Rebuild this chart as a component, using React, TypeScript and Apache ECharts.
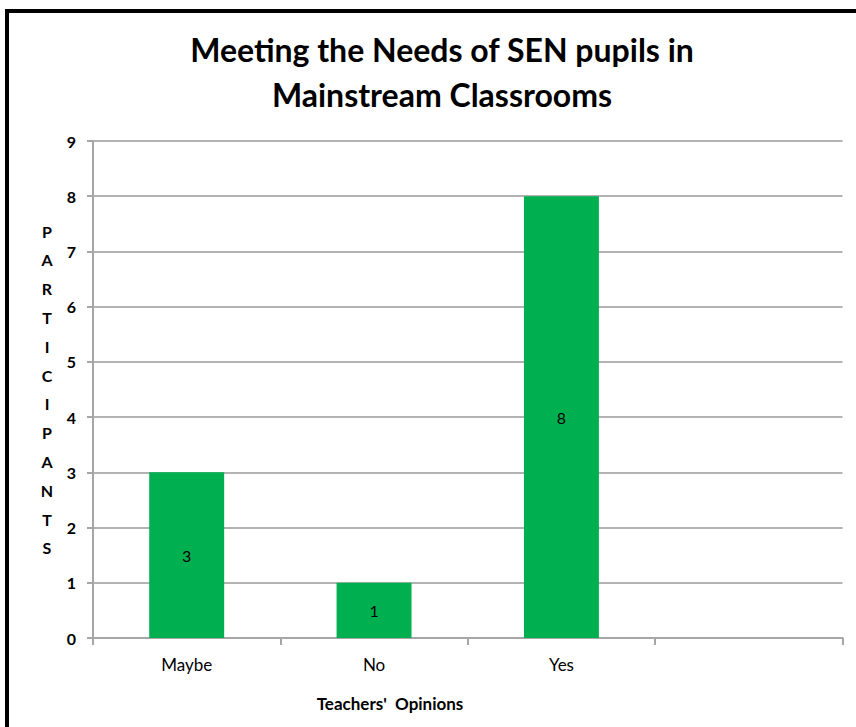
import React, { useEffect, useRef } from "react";
import * as echarts from "echarts";

const categories = ["Maybe", "No", "Yes", ""];
const participants = [3, 1, 8, null];
const yTicks = [0, 1, 2, 3, 4, 5, 6, 7, 8, 9];
const titleText = "Meeting the Needs of SEN pupils in\nMainstream Classrooms";
const xName = "Teachers'  Opinions";
const yName = "PARTICIPANTS";

const FONT = "Lato, 'Open Sans', sans-serif";

export default function App() {
  const ref = useRef<HTMLDivElement>(null);
  useEffect(() => {
    document.body.style.margin = "0";
    const chart = echarts.init(ref.current!, null, { renderer: "svg" });
    chart.setOption({
      animation: false,
      backgroundColor: "#ffffff",
      title: {
        text: titleText,
        left: 437,
        top: 22,
        textAlign: "center",
        textStyle: {
          fontFamily: FONT,
          fontWeight: "bold",
          fontSize: 32,
          lineHeight: 45,
          color: "#000",
        },
      },
      grid: { left: 93, top: 141, width: 749.5, height: 497, containLabel: false },
      xAxis: {
        type: "category",
        data: categories,
        boundaryGap: true,
        axisLine: { lineStyle: { color: "#a6a6a6", width: 2 } },
        axisTick: { show: true, length: 7, lineStyle: { color: "#a6a6a6", width: 2 } },
        axisLabel: { margin: 18, fontFamily: FONT, fontSize: 17, color: "#000" },
        splitLine: { show: false },
      },
      yAxis: {
        type: "value",
        min: yTicks[0],
        max: yTicks[yTicks.length - 1],
        interval: 1,
        name: yName.split("").join("\n"),
        nameLocation: "middle",
        nameRotate: 0,
        nameGap: 46,
        nameTextStyle: {
          fontFamily: FONT,
          fontWeight: "bold",
          fontSize: 16,
          lineHeight: 28.8,
          color: "#000",
          align: "center",
          verticalAlign: "middle",
        },
        axisLine: { show: true, lineStyle: { color: "#a6a6a6", width: 2 } },
        axisTick: { show: true, length: 6, lineStyle: { color: "#a6a6a6", width: 2 } },
        axisLabel: { margin: 17, fontFamily: FONT, fontSize: 16, fontWeight: "bold", color: "#000" },
        splitLine: { show: true, lineStyle: { color: "#b3b3b3", width: 2 } },
      },
      series: [
        {
          type: "bar",
          data: participants,
          barWidth: "40%",
          itemStyle: { color: "#00b050" },
          label: {
            show: true,
            position: "inside",
            fontFamily: FONT,
            fontSize: 16,
            color: "#000",
          },
        },
      ],
      graphic: [
        {
          type: "rect",
          shape: { x: 7, y: 11, width: 900, height: 800 },
          style: { fill: "none", stroke: "#000", lineWidth: 4 },
          silent: true,
        },
        {
          type: "text",
          x: 390,
          y: 703,
          style: {
            text: xName,
            fontFamily: FONT,
            fontWeight: "bold",
            fontSize: 17,
            fill: "#000",
            align: "center",
            verticalAlign: "middle",
          },
        },
      ],
    });
    return () => chart.dispose();
  }, []);
  return <div ref={ref} style={{ position: "absolute", left: 0, top: 0, width: 856, height: 727 }} />;
}
